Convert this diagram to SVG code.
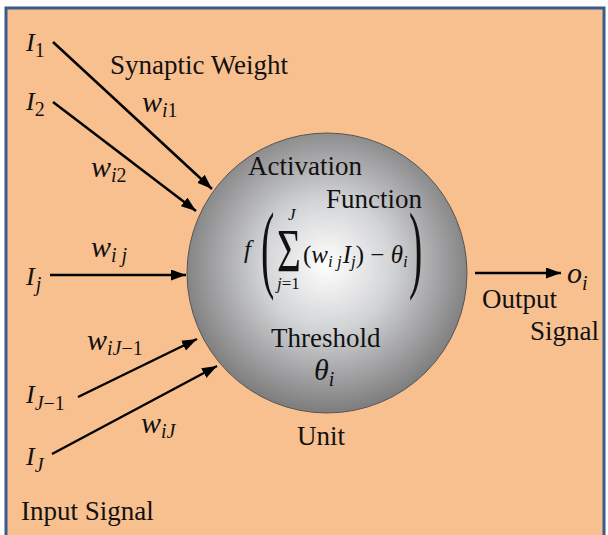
<svg xmlns="http://www.w3.org/2000/svg" width="608" height="535" viewBox="0 0 608 535">
  <defs>
    <radialGradient id="sphere" cx="50%" cy="47%" r="52%" fx="50%" fy="47%">
      <stop offset="0" stop-color="#ffffff"/>
      <stop offset="0.45" stop-color="#d2d3d5"/>
      <stop offset="1" stop-color="#7f7f80"/>
    </radialGradient>
    <marker id="arrow" markerUnits="userSpaceOnUse" markerWidth="16" markerHeight="12" refX="15" refY="5.5" orient="auto">
      <path d="M0,0 L15,5.5 L0,11 z" fill="#000"/>
    </marker>
    <style>
      text { font-family: "Liberation Serif", "DejaVu Serif", serif; fill: #111; }
      .lbl { font-size: 27px; }
      .m { font-style: italic; }
      .mI { font-size: 26px; }
      .mw { font-size: 30px; }
      .sub { font-size: 20px; }
      .num { font-style: normal; }
      .f { font-size: 25px; }
      .fs { font-size: 17px; }
      .up { font-style: normal; }
      .conn line { stroke: #000; stroke-width: 2.5; marker-end: url(#arrow); }
    </style>
  </defs>

  <rect x="0" y="0" width="608" height="535" fill="#ffffff"/>
  <rect id="frame" x="6" y="8" width="598" height="540" fill="#F9C08F" stroke="#385D8A" stroke-width="3"/>

  <g id="unit">
    <circle cx="327" cy="273" r="140" fill="url(#sphere)" stroke="#555" stroke-width="1"/>
    <text class="lbl" x="248" y="175">Activation</text>
    <text class="lbl" x="326" y="208">Function</text>
    <g id="formula">
      <text class="m f" x="244" y="258">f</text>
      <text class="up" font-size="40" transform="translate(261,280) scale(1,2.45)">(</text>
      <text class="up" font-size="38" transform="translate(277,271) scale(1.08,1.6)">Σ</text>
      <text class="m fs" x="288" y="220">J</text>
      <text class="m fs" x="277" y="289">j<tspan class="num">=1</tspan></text>
      <text class="m f" x="303" y="263"><tspan class="num">(</tspan>w<tspan class="fs" dy="4">i j</tspan><tspan dy="-4" dx="1">I</tspan><tspan class="fs" dy="4">j</tspan><tspan class="num" dy="-4">) − </tspan>θ<tspan class="fs" dy="4">i</tspan></text>
      <text class="up" font-size="40" transform="translate(409,280) scale(1,2.45)">)</text>
    </g>
    <text class="lbl" x="271" y="347">Threshold</text>
    <text class="m mw" x="314" y="380">θ<tspan class="sub" dy="6">i</tspan></text>
    <text class="lbl" x="297" y="445">Unit</text>
  </g>

  <g id="labels">
    <text class="lbl" x="110" y="74">Synaptic Weight</text>
    <text class="lbl" x="21" y="520">Input Signal</text>
    <text class="lbl" x="482" y="308">Output</text>
    <text class="lbl" x="530" y="340">Signal</text>
  </g>

  <g id="inputs">
    <text id="in1" class="m mI" x="26" y="51">I<tspan class="sub num" dy="6">1</tspan></text>
    <text id="in2" class="m mI" x="26" y="110">I<tspan class="sub num" dy="6">2</tspan></text>
    <text id="inj" class="m mI" x="26" y="285">I<tspan class="sub" dy="6" dx="1">j</tspan></text>
    <text id="inJm1" class="m mI" x="26" y="403">I<tspan class="sub" dy="7">J</tspan><tspan class="sub num">−1</tspan></text>
    <text id="inJ" class="m mI" x="26" y="465">I<tspan class="sub" dy="7">J</tspan></text>
  </g>

  <g id="weights">
    <text id="w1" class="m mw" x="142" y="112">w<tspan class="sub" dy="5">i</tspan><tspan class="sub num">1</tspan></text>
    <text id="w2" class="m mw" x="91" y="177">w<tspan class="sub" dy="5">i</tspan><tspan class="sub num">2</tspan></text>
    <text id="wj" class="m mw" x="91" y="257">w<tspan class="sub" dy="5">i j</tspan></text>
    <text id="wJm1" class="m mw" x="87" y="350">w<tspan class="sub" dy="5">iJ</tspan><tspan class="sub num">−1</tspan></text>
    <text id="wJ" class="m mw" x="141" y="433">w<tspan class="sub" dy="5">iJ</tspan></text>
  </g>

  <g id="output">
    <text class="m mw" x="567" y="283">o<tspan class="sub" dy="7">i</tspan></text>
  </g>

  <g id="connectors" class="conn">
    <line x1="53" y1="42" x2="212" y2="189"/>
    <line x1="53" y1="102" x2="196" y2="211"/>
    <line x1="50" y1="275" x2="186" y2="275"/>
    <line x1="78" y1="397" x2="197" y2="339"/>
    <line x1="52" y1="454" x2="217" y2="366"/>
    <line x1="475" y1="273" x2="561" y2="273"/>
  </g>
</svg>
